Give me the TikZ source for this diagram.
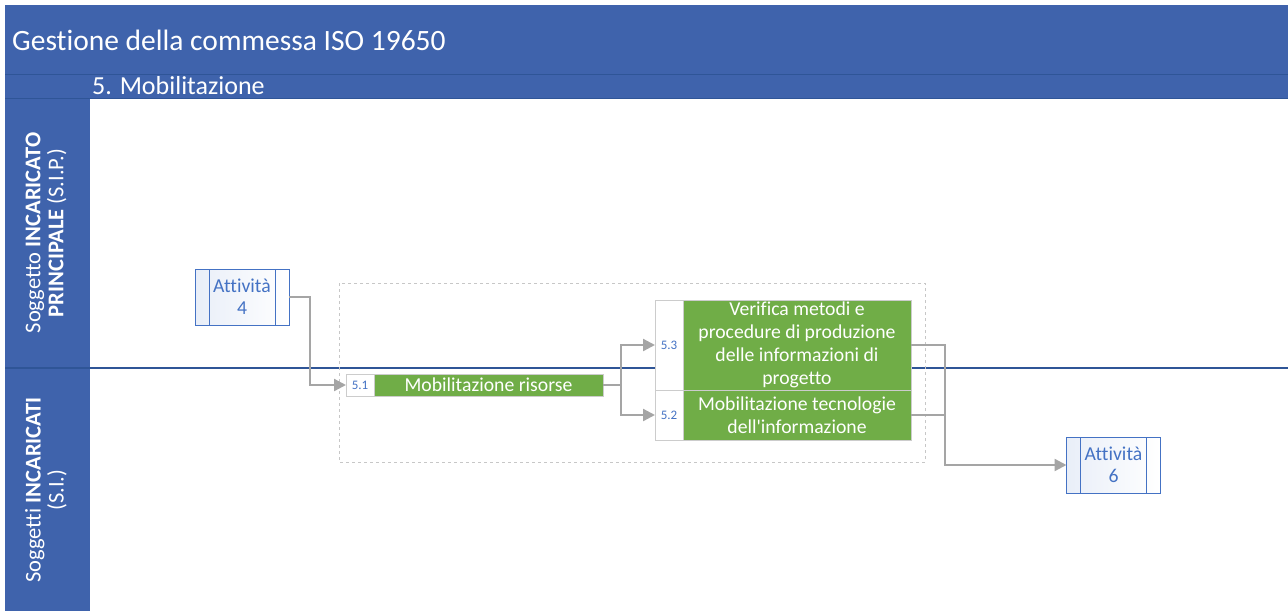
\documentclass[tikz,border=0pt]{standalone}
\usepackage{fontspec}
\setmainfont[Ligatures={NoCommon}]{Carlito}
\usetikzlibrary{arrows.meta, positioning, calc}

\definecolor{lanebl}{HTML}{3F63AC}
\definecolor{linebl}{HTML}{2F5597}
\definecolor{taskgr}{HTML}{70AD47}
\definecolor{flowgr}{HTML}{A5A5A5}
\definecolor{actbl}{HTML}{4472C4}

\begin{document}
\begin{tikzpicture}[x=1pt, y=-1pt, >={Triangle[length=12pt,width=12pt]},
  flow/.style={->, draw=flowgr, line width=2.3pt},
  num/.style={draw=black!20, fill=white, text=actbl, outer sep=0pt, inner sep=0pt,
    minimum width=28pt, font=\fontsize{13}{15}\selectfont},
  task/.style={draw=black!20, fill=taskgr, text=white, outer sep=0pt, inner sep=0pt,
    minimum width=228pt, align=center, font=\fontsize{19.7}{23}\selectfont},
  act/.style={draw=actbl, left color=actbl!12, right color=white, text=actbl, outer sep=0pt,
    align=center, minimum width=94pt, minimum height=56pt, font=\fontsize{19.7}{22}\selectfont},
  band/.style={text=white, anchor=west, inner sep=0pt}]

  \useasboundingbox (0,0) rectangle (1288,611);

  % pool and lanes
  \fill[lanebl] (5,5) rectangle (1288,98);
  \fill[lanebl] (5,98) rectangle (90,611);
  \draw[linebl, line width=1pt] (5,74) -- (1288,74);
  \draw[linebl, line width=1pt] (5,98) -- (1288,98);
  \draw[linebl, line width=1.2pt] (5,368) -- (1288,368);

  \node[band, font=\fontsize{29.5}{34}\selectfont] (title) at (12,40) {Gestione della commessa ISO 19650};
  \node[band, font=\fontsize{26}{30}\selectfont] (phase) at (92,86) {5. Mobilitazione};

  \node[rotate=90, text=white, align=center, font=\fontsize{22.5}{23}\selectfont] (sip) at (46,233)
    {Soggetto \textbf{INCARICATO}\\\textbf{PRINCIPALE} (S.I.P.)};
  \node[rotate=90, text=white, align=center, font=\fontsize{22.5}{23}\selectfont] (si) at (46,490)
    {Soggetti \textbf{INCARICATI}\\(S.I.)};

  % group
  \draw[draw=black!22, dashed, line width=1pt] (339,283) rectangle (925,462);

  % activities
  \node[act] (a4) at (242,297) {Attività\\4};
  \node[act] (a6) at (1113.5,465) {Attività\\6};
  \foreach \a in {a4,a6} {
    \draw[actbl] ([xshift=14pt]\a.north west) -- ([xshift=14pt]\a.south west);
    \draw[actbl] ([xshift=-14pt]\a.north east) -- ([xshift=-14pt]\a.south east);
  }

  % tasks
  \node[num, minimum height=22pt] (n51) at (360,385) {5.1};
  \node[task, minimum height=22pt, minimum width=229pt, right=0pt of n51] (t51) {Mobilitazione risorse};
  \node[num, minimum height=90pt] (n53) at (669,345) {5.3};
  \node[task, minimum height=90pt, right=0pt of n53] (t53)
    {Verifica metodi e\\procedure di produzione\\delle informazioni di\\progetto};
  \node[num, minimum height=50pt] (n52) at (669,415) {5.2};
  \node[task, minimum height=50pt, right=0pt of n52] (t52)
    {Mobilitazione tecnologie\\dell\textquotesingle informazione};

  % flows
  \draw[flow] (a4.east) -- ++(21,0) |- (n51.west);
  \draw[flow] (t51.east) -- ++(18,0) |- (n53.west);
  \draw[flow] (t51.east) -- ++(18,0) |- (n52.west);
  \draw[flow] (t53.east) -- ++(34,0) |- (a6.west);
  \draw[flow, -] (t52.east) -- ++(34,0);
\end{tikzpicture}
\end{document}
